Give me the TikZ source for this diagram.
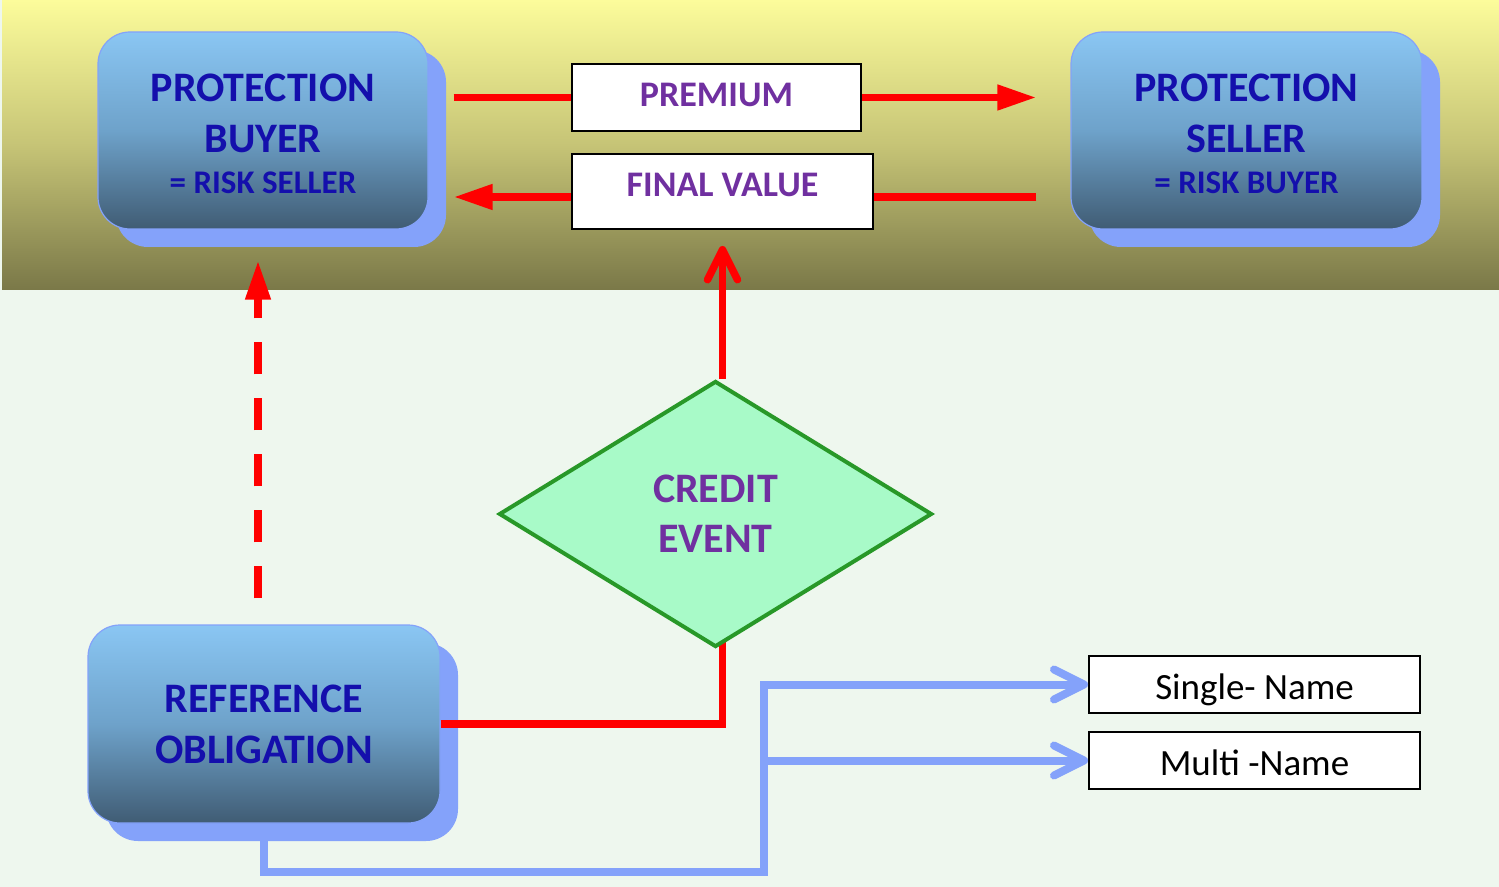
\documentclass[tikz,border=0pt]{standalone}
\usepackage{fontspec}
\setmainfont{Carlito}
\usetikzlibrary{arrows.meta,shapes.geometric,shadows,calc}

\definecolor{pagebg}{RGB}{238,247,238}
\definecolor{bandtop}{RGB}{252,252,155}
\definecolor{bandmid}{RGB}{198,196,118}
\definecolor{bandbot}{RGB}{122,120,72}
\definecolor{boxtop}{RGB}{138,198,243}
\definecolor{boxmid}{RGB}{110,162,202}
\definecolor{boxbot}{RGB}{64,92,116}
\definecolor{softblue}{RGB}{132,162,250}
\definecolor{navy}{RGB}{20,15,172}
\definecolor{plum}{RGB}{112,48,160}
\definecolor{leaf}{RGB}{40,152,40}
\definecolor{mint}{RGB}{168,250,200}

\pgfdeclarelayer{canvas}
\pgfdeclarelayer{under}
\pgfsetlayers{canvas,under,main}

\begin{document}
\begin{tikzpicture}[x=0.5pt,y=-0.5pt,
  party/.style={rounded corners=16pt, draw=softblue, line width=0.6pt,
    top color=boxtop, bottom color=boxbot, middle color=boxmid,
    general shadow={fill=softblue, shadow xshift=9pt, shadow yshift=-9pt},
    minimum height=98.5pt, align=center, text=navy,
    font=\bfseries\fontsize{21}{25.5}\selectfont, inner sep=0pt},
  paybox/.style={draw=black, line width=1pt, fill=white, text=plum,
    font=\bfseries\fontsize{18}{22}\selectfont, inner sep=0pt, text height=21.5pt},
  namebox/.style={draw=black, line width=1pt, fill=white,
    font=\fontsize{18.5}{22}\selectfont, minimum width=165.5pt, inner sep=0pt,
    text height=21.5pt, text depth=7pt},
  flow/.style={red, line width=3.75pt},
  solidtip/.style={-{Triangle[length=19.5pt,width=12pt]}},
  link/.style={softblue, line width=4pt,
    preaction={draw=black, opacity=0.22, transform canvas={xshift=1pt,yshift=-1.2pt}}},
  linktip/.style={-{Straight Barb[length=15pt,width=15pt,round]}}
]
\useasboundingbox (0,0) rectangle (1499,887);

% page and the upper band
\begin{pgfonlayer}{canvas}
  \fill[pagebg] (0,0) rectangle (1499,887);
  \fill[top color=bandtop, bottom color=bandbot, middle color=bandmid] (2,0) rectangle (1499,290);
\end{pgfonlayer}

% parties
\node[party, minimum width=165pt] (buyer) at (263,130.5)
  {\rule{0pt}{17.5pt}PROTECTION\\ BUYER\\[-5pt]
   {\fontsize{16.5}{20.5}\selectfont = RISK SELLER}};
\node[party, minimum width=175.5pt] (seller) at (1246.5,130.5)
  {\rule{0pt}{17.5pt}PROTECTION\\ SELLER\\[-5pt]
   {\fontsize{16.5}{20.5}\selectfont = RISK BUYER}};
\node[party, minimum width=176pt, minimum height=99pt] (ref) at (264,724)
  {REFERENCE\\ OBLIGATION};

% payment labels
\node[paybox, minimum width=144.5pt, text depth=12pt] (premium) at (716.5,97.5) {PREMIUM};
\node[paybox, minimum width=150.5pt, text depth=16pt] (final) at (722.5,191.5) {FINAL VALUE};

% trigger
\node[diamond, draw=leaf, fill=mint, line width=2pt, minimum width=216.5pt,
  minimum height=133pt, inner sep=0pt, text=plum, align=center,
  font=\bfseries\fontsize{21}{25}\selectfont] (event) at (715.5,514) {CREDIT\\EVENT};

% underlying types
\node[namebox] (single) at (1254.5,684.5) {Single- Name};
\node[namebox] (multi) at (1254.5,760.5) {Multi -Name};

% premium and final value flows
\draw[flow] ($(buyer.east |- premium.west)+(25,0)$) -- (premium.west);
\draw[flow, solidtip] (premium.east) -- ($(seller.west |- premium.east)+(-34,0)$);
\draw[flow] ($(seller.west |- final.east)+(-34,5.5)$) -- ($(final.east)+(0,5.5)$);
\draw[flow, solidtip] ($(final.west)+(0,5.5)$) -- ($(buyer.east |- final.west)+(25,5.5)$);

% reference obligation to the buyer
\draw[flow, solidtip, dash pattern=on 16pt off 12pt]
  ($(ref.north)+(-6,-26)$) -- ($(buyer.south)+(-5,31)$);

% credit event path: the vertical runs tuck under the diamond
\coordinate (elbow) at (final.south |- ref.east);
\begin{pgfonlayer}{under}
  \draw[flow, -{Straight Barb[length=15pt,width=15pt,round]}]
    (final.south |- event.north) -- ($(final.south)+(0,16)$);
  \draw[flow] ($(elbow)+(0,3.75)$) -- ($(event.south -| elbow)+(0,-8)$);
\end{pgfonlayer}
\draw[flow] (ref.east) -- ($(elbow)+(3.75,0)$);

% obligation types
\coordinate (bend) at (764,872);
\draw[link, linktip] (ref.south) |- (bend) |- (single.west);
\draw[link, linktip] (bend |- multi.west) -- (multi.west);
\end{tikzpicture}
\end{document}
